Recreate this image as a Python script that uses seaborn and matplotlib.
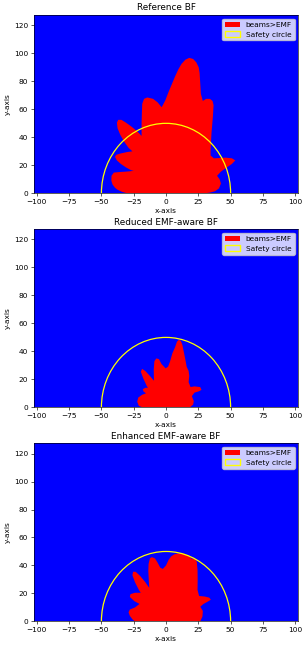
import matplotlib
matplotlib.use("Agg")
import matplotlib.pyplot as plt
from matplotlib.patches import Circle, Patch
import seaborn as sns

# panel titles and the outline of the "beams > EMF" region for each beamformer
titles = ["Reference BF", "Reduced EMF-aware BF", "Enhanced EMF-aware BF"]
safety_radius = 50

ref_outline = [
    (30, 0), (34, 0.5), (38, 1.5), (41, 3.5), (42.5, 7), (41.5, 10), (39.5, 12.5),
    (42.5, 15.5), (47, 18.5), (51, 21), (53.6, 23.5), (51, 25), (46, 25.5), (41, 25.2),
    (37, 25), (34.5, 27), (34.5, 31), (35.2, 43), (36.3, 55), (36.8, 63), (36, 66),
    (34, 67.5), (31, 67.5), (28.5, 66), (27, 71), (26.4, 80), (26, 86), (25.3, 90),
    (23.5, 93.5), (21, 96), (18, 96.8), (15, 95.5), (12, 92.5), (9.5, 88.5), (7, 83.5),
    (4.5, 78), (2, 72.5), (-0.5, 66.5), (-2.5, 63), (-3.4, 61.5), (-6.5, 65), (-10, 67.5),
    (-14.5, 68.5), (-17, 67.5), (-18.4, 64), (-18.7, 57), (-18.9, 50), (-18.9, 41),
    (-22, 44), (-26.5, 47.5), (-31, 50.5), (-34.5, 52.5), (-37, 52.5), (-38, 50.5),
    (-37.5, 46.5), (-35.5, 42), (-32.5, 37), (-29, 32.5), (-26, 30), (-30, 29.5),
    (-35, 28.5), (-38.5, 27.5), (-39.5, 26), (-38, 23.5), (-35, 21), (-31, 18.5),
    (-27, 16.5), (-25, 16), (-31, 15.5), (-36, 15.2), (-40.4, 14.8), (-42.2, 12.5),
    (-42.3, 9), (-41.4, 6.3), (-39.5, 4), (-37.8, 2.7), (-34, 1), (-30, 0),
]

reduced_outline = [
    (18.5, 0), (21, 2), (21.5, 4.5), (20, 8), (22, 10.5), (25.5, 11.5), (27.5, 12.5),
    (26.5, 14.5), (22, 15), (19, 14.5), (17.5, 18), (18, 22.5), (17.5, 26), (16, 29),
    (15, 34), (14, 38.6), (12.7, 44.5), (11.5, 47.5), (10, 48.3), (8.5, 47), (7, 43),
    (4.9, 38.6), (3.1, 32.7), (1.6, 29.1), (-0.3, 27.9), (-3.5, 31), (-5.5, 34.5),
    (-7.5, 35), (-9, 33), (-9.5, 27), (-9.3, 19), (-12.5, 22.5), (-16, 26), (-18.5, 27.5),
    (-19.5, 25.5), (-17.5, 20.5), (-15, 15.5), (-14, 14), (-16, 14), (-18, 13), (-17.5, 11.5),
    (-15.5, 10), (-18.5, 9), (-21.5, 7), (-22.3, 4), (-21, 1), (-18, 0),
]

enhanced_outline = [
    (26.5, 0), (28.2, 3.5), (28.5, 7.5), (26.5, 10.5), (29, 12.5), (32, 14), (34.7, 15.5),
    (33.5, 17), (30, 17.8), (25.6, 18.2), (24.4, 22.5), (24.5, 30), (24.4, 36.7),
    (23.8, 42.6), (22.5, 44.5), (19.5, 45), (17.5, 47), (14, 48.5), (10, 48.6), (6.5, 48),
    (4, 46.5), (2, 44), (0, 40), (-2.5, 37.5), (-4.5, 38.5), (-6.5, 42), (-8.5, 45),
    (-11, 46), (-12.5, 45), (-13.5, 41), (-13.7, 36), (-13.3, 29), (-13, 24), (-16, 28),
    (-20, 32.5), (-23.5, 35.5), (-25.5, 35.5), (-26, 33), (-24, 28), (-21, 22.5),
    (-19.5, 20.5), (-24, 20.5), (-27.5, 19.5), (-28, 17.5), (-24.5, 14.5), (-20.5, 12.5),
    (-24, 10), (-28, 8.5), (-29, 6.5), (-28, 4), (-26, 1.5), (-24, 0),
]

outlines = [ref_outline, reduced_outline, enhanced_outline]
xticks = [-100, -75, -50, -25, 0, 25, 50, 75, 100]
yticks = [0, 20, 40, 60, 80, 100, 120]

fs = 5.3
sns.set_theme(style="ticks", rc={
    "axes.edgecolor": "black", "axes.labelcolor": "black", "text.color": "black",
    "xtick.color": "black", "ytick.color": "black",
    "font.size": fs, "axes.titlesize": fs * 1.2, "axes.labelsize": fs,
    "xtick.labelsize": fs, "ytick.labelsize": fs, "legend.fontsize": fs,
    "axes.linewidth": 0.45, "xtick.major.width": 0.45, "ytick.major.width": 0.45,
    "xtick.major.size": 1.9, "ytick.major.size": 1.9,
    "xtick.major.pad": 1.9, "ytick.major.pad": 1.9,
    "axes.labelpad": 2.6, "axes.titlepad": 3.2,
})
plt.rcParams["font.family"] = ["DejaVu Sans"]

fig, axes = plt.subplots(3, 1, figsize=(3.08, 6.48), dpi=100)
fig.subplots_adjust(left=0.109, right=0.969, top=0.977, bottom=0.041, hspace=0.2)

handles = [
    Patch(facecolor="red", edgecolor="none", label="beams>EMF"),
    Patch(facecolor="none", edgecolor="yellow", linewidth=1.0, label="Safety circle"),
]

for ax, title, outline in zip(axes, titles, outlines):
    ax.set_facecolor("blue")
    xs, ys = zip(*outline)
    ax.fill(xs, ys, color="red", linewidth=0)
    ax.add_patch(Circle((0, 0), safety_radius, fill=False, edgecolor="yellow",
                        linewidth=0.9))
    ax.set_xlim(-102.5, 102.5)
    ax.set_ylim(0, 127.5)
    ax.set_xticks(xticks)
    ax.set_yticks(yticks)
    ax.set_title(title)
    ax.set_xlabel("x-axis")
    ax.set_ylabel("y-axis")
    ax.legend(handles=handles, loc="upper right", frameon=True, fancybox=True,
              framealpha=0.8, edgecolor="0.8", facecolor="white")

fig.savefig("out.png", dpi=100)
